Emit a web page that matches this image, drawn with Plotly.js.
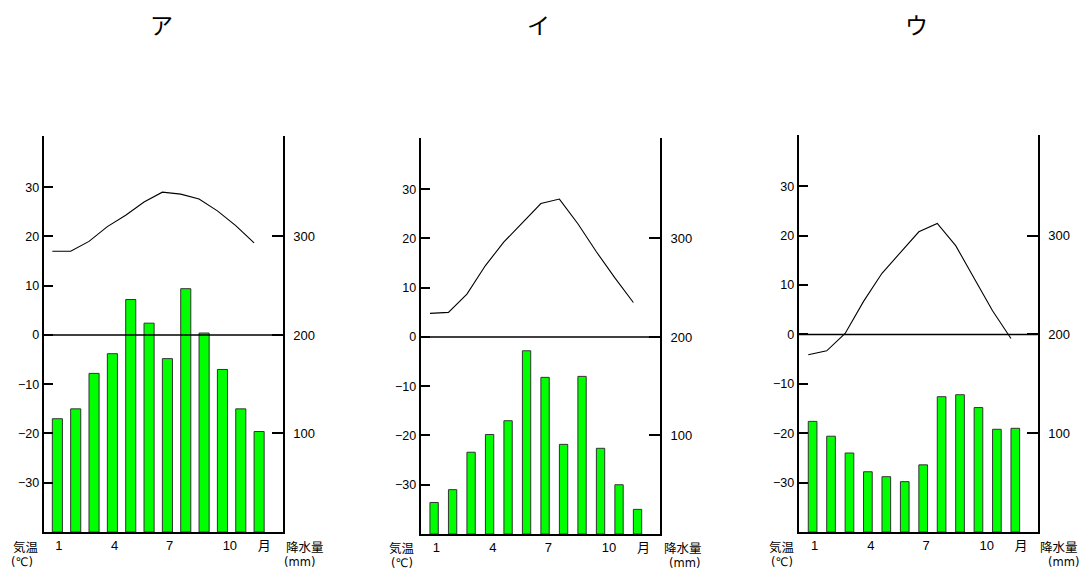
<!DOCTYPE html>
<html>
<head>
<meta charset="utf-8">
<script src="https://cdn.plot.ly/plotly-3.0.1.min.js"></script>
<style>html,body{margin:0;padding:0;background:#fff;}#chart{width:1087px;height:572px;}</style>
</head>
<body>
<div id="chart"></div>
<script>
// ---- data ----
const months = [1,2,3,4,5,6,7,8,9,10,11,12];
const panelTitles = ['ア','イ','ウ'];
const tempA = [17.0,17.0,19.0,22.0,24.3,27.0,29.0,28.6,27.6,25.2,22.2,18.7];
const precA = [115,125,161,181,236,212,176,247,202,165,125,102];
const tempI = [4.8,5.0,8.7,14.5,19.3,23.2,27.1,28.0,23.0,17.3,12.0,7.0];
const precI = [32,45,83,101,115,186,159,91,160,87,50,25];
const tempU = [-4.1,-3.3,0.2,6.7,12.4,16.7,20.8,22.5,18.0,11.4,4.8,-0.8];
const precU = [112,97,80,61,56,51,68,137,139,126,104,105];
const monthTickText = ['1','4','7','10','月'];
const tempTicks = [-30,-20,-10,0,10,20,30];
const precTicks = [100,200,300];
const tempLabel = ['気温','(℃)'];
const precLabel = ['降水量','(mm)'];

// ---- layout geometry (pixels) ----
const W = 1087, H = 572;
// lab: [x-left, y-center] for 気温, (℃), 降水量, (mm)
const panels = [
  {temp: tempA, prec: precA, left: 43.7, right: 282.7, top: 136, bottom: 532, x0: 0.53, x1: 13.56, bw: 0.55,
   lab: [[11.5,546],[10,561.5],[285,546],[283,561.5]]},
  {temp: tempI, prec: precI, left: 420.7, right: 660, top: 138, bottom: 534, x0: 0.50, x1: 13.44, bw: 0.45,
   lab: [[388.3,547],[390,562.5],[662.7,547],[668,562.5]]},
  {temp: tempU, prec: precU, left: 798.7, right: 1037.7, top: 135, bottom: 532, x0: 0.48, x1: 13.45, bw: 0.47,
   lab: [[768.3,546],[770,561.5],[1039.3,546],[1047.3,561.5]]}
];
const tickPos = [1.35, 4.4, 7.4, 10.68, 12.55];
const numFont = 'Liberation Sans, Arial, Noto Sans CJK JP, sans-serif';
const cjkFont = 'Noto Sans CJK JP, sans-serif';
const unitFont = 'DejaVu Sans, Liberation Sans, sans-serif';

const data = [];
const layout = {
  width: W, height: H,
  margin: {l:0, r:0, t:0, b:0},
  paper_bgcolor: '#fff', plot_bgcolor: 'rgba(0,0,0,0)',
  showlegend: false,
  annotations: [], shapes: []
};

panels.forEach((p, i) => {
  const n = i + 1;
  const xa = n === 1 ? 'x' : 'x' + n;
  const yT = 'y' + (2*i + 1 === 1 ? '' : (2*i + 1));
  const yP = 'y' + (2*i + 2);
  const xdom = [p.left / W, p.right / W];
  const ydom = [1 - p.bottom / H, 1 - p.top / H];

  data.push({
    type: 'bar', x: months, y: p.prec, xaxis: xa, yaxis: yP,
    offset: 0, width: p.bw,
    marker: {color: '#00ff00', line: {color: '#333', width: 1}},
    hoverinfo: 'skip'
  });
  data.push({
    type: 'scatter', mode: 'lines', x: months, y: p.temp, xaxis: xa, yaxis: yT,
    line: {color: '#000', width: 1.1}, hoverinfo: 'skip'
  });

  const xkey = n === 1 ? 'xaxis' : 'xaxis' + n;
  const yTkey = 'yaxis' + (2*i + 1 === 1 ? '' : (2*i + 1));
  const yPkey = 'yaxis' + (2*i + 2);

  layout[xkey] = {
    domain: xdom, range: [p.x0, p.x1], anchor: yT,
    showgrid: false, zeroline: false, showline: true, linecolor: '#000', linewidth: 2,
    ticks: '', tickmode: 'array', tickvals: tickPos, ticktext: monthTickText,
    tickfont: {family: numFont, size: 13, color: '#000'}, fixedrange: true
  };
  layout[yTkey] = {
    domain: ydom, range: [-40, 40.4], anchor: xa,
    showgrid: false, zeroline: false, showline: true, linecolor: '#000', linewidth: 2,
    ticks: 'inside', ticklen: 9, tickwidth: 2, tickcolor: '#000',
    tickmode: 'array', tickvals: tempTicks,
    tickfont: {family: numFont, size: 12.5, color: '#000'}, fixedrange: true
  };
  layout[yPkey] = {
    domain: ydom, range: [0, 402], anchor: xa, overlaying: yT, side: 'right',
    showgrid: false, zeroline: false, showline: true, linecolor: '#000', linewidth: 2,
    ticks: 'inside', ticklen: 11, tickwidth: 2, tickcolor: '#000',
    tickmode: 'array', tickvals: precTicks, ticklabelstandoff: 6,
    tickfont: {family: numFont, size: 13, color: '#000'}, fixedrange: true
  };

  // zero-degree line
  layout.shapes.push({
    type: 'line', xref: xa + ' domain', yref: yT, x0: 0, x1: 1, y0: 0, y1: 0,
    line: {color: '#000', width: 1.6}, layer: 'above'
  });

  // panel title
  layout.annotations.push({
    text: panelTitles[i], xref: 'paper', yref: 'paper',
    x: (p.left + p.right) / 2 / W - 2 / W, y: 1 - 24 / H, xanchor: 'center', yanchor: 'middle',
    showarrow: false, font: {family: cjkFont, size: 23, color: '#000'}
  });
  // axis unit labels
  const texts = [tempLabel[0], tempLabel[1], precLabel[0], precLabel[1]];
  const fams = [cjkFont, unitFont, cjkFont, unitFont];
  const sizes = [12.5, 11.5, 12.5, 11.5];
  texts.forEach((t, k) => {
    layout.annotations.push({
      text: t, xref: 'paper', yref: 'paper',
      x: p.lab[k][0] / W, y: 1 - p.lab[k][1] / H, xanchor: 'left', yanchor: 'middle',
      showarrow: false, borderpad: 0, font: {family: fams[k], size: sizes[k], color: '#000'}
    });
  });
});

Plotly.newPlot('chart', data, layout, {staticPlot: true});
</script>
</body>
</html>
